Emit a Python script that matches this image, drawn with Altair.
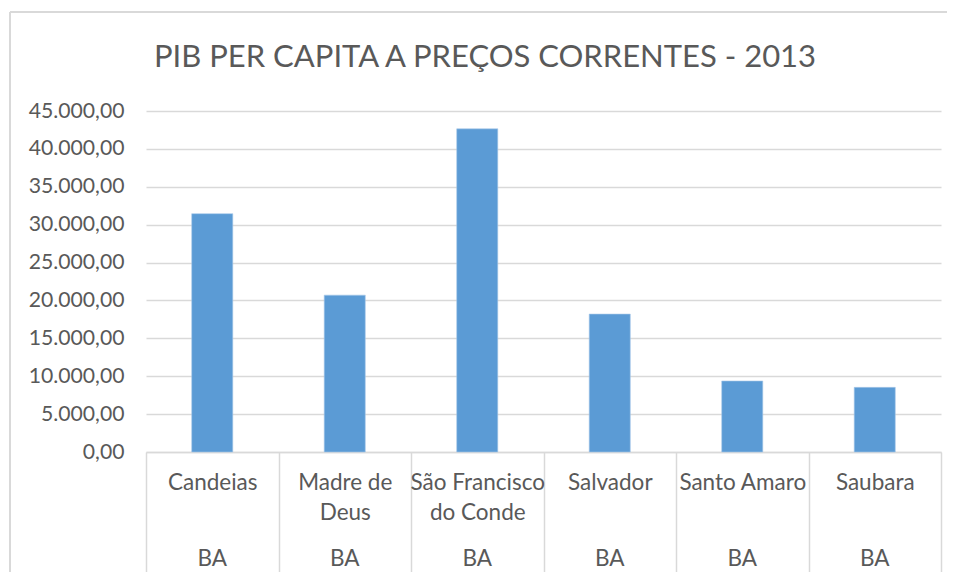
import altair as alt
import pandas as pd

cities = ["Candeias", "Madre de Deus", "São Francisco do Conde", "Salvador", "Santo Amaro", "Saubara"]
states = ["BA", "BA", "BA", "BA", "BA", "BA"]
pib = [31450, 20700, 42650, 18200, 9370, 8530]
y_ticks = [0, 5000, 10000, 15000, 20000, 25000, 30000, 35000, 40000, 45000]
title_text = "PIB PER CAPITA A PREÇOS CORRENTES - 2013"

df = pd.DataFrame({"city": cities, "state": states, "pib": pib})

FONT = "Lato"
GRAY = "#595959"
LINE = "#d9d9d9"

x_scale = alt.Scale(domain=cities, paddingInner=0, paddingOuter=0)

label_expr = (
    "datum.label == 'Madre de Deus' ? ['Madre de', 'Deus'] : "
    "datum.label == 'São Francisco do Conde' ? ['São Francisco', 'do Conde'] : datum.label"
)

y_label_expr = (
    "replace(replace(replace(format(datum.value, ',.2f'), ',', '_'), '.', ','), '_', '.')"
)

bars = alt.Chart(df).mark_bar(
    color="#5b9bd5", width=alt.RelativeBandSize(0.31), stroke="#a9c9ea", strokeWidth=0.6
).encode(
    x=alt.X(
        "city:N",
        scale=x_scale,
        sort=cities,
        title=None,
        axis=alt.Axis(
            tickBand="extent",
            ticks=True,
            tickSize=123,
            tickColor=LINE,
            tickWidth=1.5,
            domain=True,
            domainColor=LINE,
            domainWidth=1.5,
            labelAngle=0,
            labelExpr=label_expr,
            labelFont=FONT,
            labelFontSize=22.5,
            labelColor=GRAY,
            labelLineHeight=30,
            labelPadding=-86,
            labelBaseline="alphabetic",
        ),
    ),
    y=alt.Y(
        "pib:Q",
        scale=alt.Scale(domain=[0, 45000], nice=False),
        title=None,
        axis=alt.Axis(
            values=y_ticks,
            labelExpr=y_label_expr,
            domain=False,
            ticks=False,
            grid=True,
            gridColor=LINE,
            gridWidth=1.5,
            labelFont=FONT,
            labelFontSize=21.2,
            labelColor=GRAY,
            labelPadding=22,
        ),
    ),
)

state_text = alt.Chart(df).mark_text(
    font=FONT, fontSize=22.5, color=GRAY, baseline="alphabetic"
).encode(
    x=alt.X("city:N", scale=x_scale, sort=cities),
    y=alt.value(455),
    text="state:N",
)

title_mark = alt.Chart(pd.DataFrame({"t": [title_text]})).mark_text(
    font=FONT, fontSize=31, color=GRAY, baseline="alphabetic", align="center"
).encode(
    x=alt.value(339),
    y=alt.value(-44),
    text="t:N",
)

border_v = alt.Chart(df).mark_rule(color=LINE, strokeWidth=1.5).encode(
    x=alt.value(-136), y=alt.value(-99), y2=alt.value(480)
)
border_h = alt.Chart(df).mark_rule(color=LINE, strokeWidth=1.5).encode(
    x=alt.value(-136), x2=alt.value(830), y=alt.value(-99)
)

chart = alt.layer(border_v, border_h, title_mark, bars, state_text).properties(
    width=795,
    height=341,
    autosize=alt.AutoSizeParams(type="none"),
    padding={"left": 138, "top": 103, "right": 6, "bottom": 120},
).configure_view(stroke=None)

chart.save("out.html", embed_options={"renderer": "svg", "actions": False})
